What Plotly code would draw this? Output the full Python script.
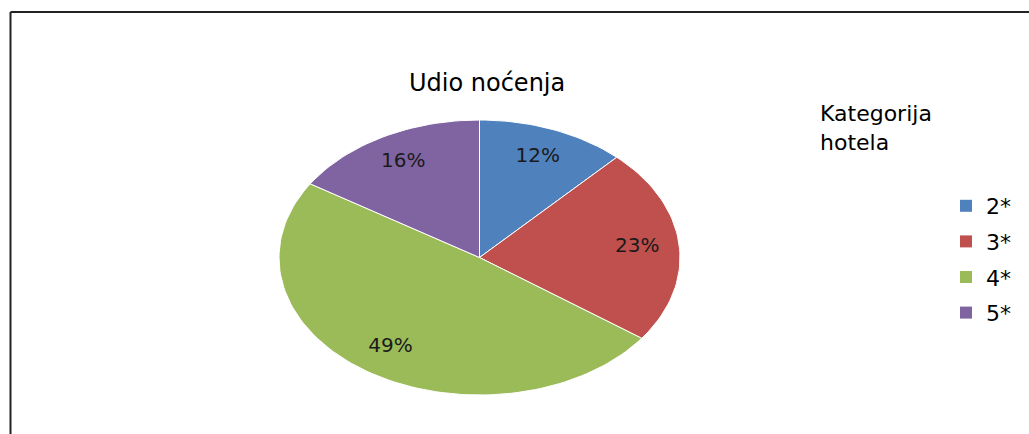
import math
import plotly.graph_objects as go

# ---- data ----
categories = ["2*", "3*", "4*", "5*"]
shares = [12, 23, 49, 16]
slice_colors = ["#4F81BD", "#C0504D", "#9BBB59", "#8064A2"]
chart_title = "Udio noćenja"
legend_title_lines = ["Kategorija", "hotela"]

# ---- geometry / layout constants ----
W, H = 1029, 434
CX, CY = 479.5, 257.5      # pie centre in pixels
RX, RY = 200.5, 137.5      # pie radii in pixels (stretched pie)
LABEL_R = 0.79
FONT = "DejaVu Sans"

total = float(sum(shares))
fig = go.Figure()

cum = 0.0
label_x, label_y, label_t = [], [], []
for cat, val, col in zip(categories, shares, slice_colors):
    a0 = 2 * math.pi * cum / total
    a1 = 2 * math.pi * (cum + val) / total
    n = max(8, int(200 * val / total))
    xs, ys = [0.0], [0.0]
    for i in range(n + 1):
        a = a0 + (a1 - a0) * i / n
        xs.append(math.sin(a))
        ys.append(math.cos(a))
    xs.append(0.0)
    ys.append(0.0)
    fig.add_trace(go.Scatter(
        x=xs, y=ys, mode="lines", fill="toself", fillcolor=col,
        line=dict(color="white", width=1), showlegend=False,
        hoverinfo="skip", name=cat))
    am = (a0 + a1) / 2
    label_x.append(LABEL_R * math.sin(am))
    label_y.append(LABEL_R * math.cos(am))
    label_t.append(f"{val}%")
    cum += val

fig.add_trace(go.Scatter(
    x=label_x, y=label_y, mode="text", text=label_t,
    textfont=dict(family=FONT, size=20, color="#1a1a1a"),
    showlegend=False, hoverinfo="skip"))

# legend entries
for cat, col in zip(categories, slice_colors):
    fig.add_trace(go.Scatter(
        x=[None], y=[None], mode="markers", name=cat, legendgroup=cat,
        marker=dict(symbol="square", size=12, color=col)))

xr = [-CX / RX, (W - CX) / RX]
yr = [-(H - CY) / RY, CY / RY]

annotations = [
    dict(text=chart_title, x=487 / W, y=1 - 83 / H, xref="paper", yref="paper",
         xanchor="center", yanchor="middle", showarrow=False,
         font=dict(family=FONT, size=24, color="black")),
    dict(text=legend_title_lines[0], x=818 / W, y=1 - 114 / H, xref="paper", yref="paper",
         xanchor="left", yanchor="middle", showarrow=False,
         font=dict(family=FONT, size=22, color="black")),
    dict(text=legend_title_lines[1], x=818 / W, y=1 - 143 / H, xref="paper", yref="paper",
         xanchor="left", yanchor="middle", showarrow=False,
         font=dict(family=FONT, size=22, color="black")),
]

shapes = [
    dict(type="line", xref="paper", yref="paper", x0=10.5 / W, x1=10.5 / W,
         y0=0, y1=1 - 12 / H, line=dict(color="#222222", width=2)),
    dict(type="line", xref="paper", yref="paper", x0=10.5 / W, x1=1,
         y0=1 - 12 / H, y1=1 - 12 / H, line=dict(color="#222222", width=2)),
]

fig.update_layout(
    width=W, height=H, autosize=False,
    margin=dict(l=0, r=0, t=0, b=0),
    paper_bgcolor="white", plot_bgcolor="white",
    xaxis=dict(range=xr, visible=False, fixedrange=True),
    yaxis=dict(range=yr, visible=False, fixedrange=True),
    showlegend=True,
    legend=dict(x=946 / W, y=1 - 185 / H, xanchor="left", yanchor="top",
                font=dict(family=FONT, size=22, color="black"),
                tracegroupgap=4, bgcolor="rgba(0,0,0,0)"),
    annotations=annotations,
    shapes=shapes,
)

fig.write_html("out.html", config={"displayModeBar": False},
               post_script="document.body.style.margin='0';document.body.style.overflow='hidden';")
